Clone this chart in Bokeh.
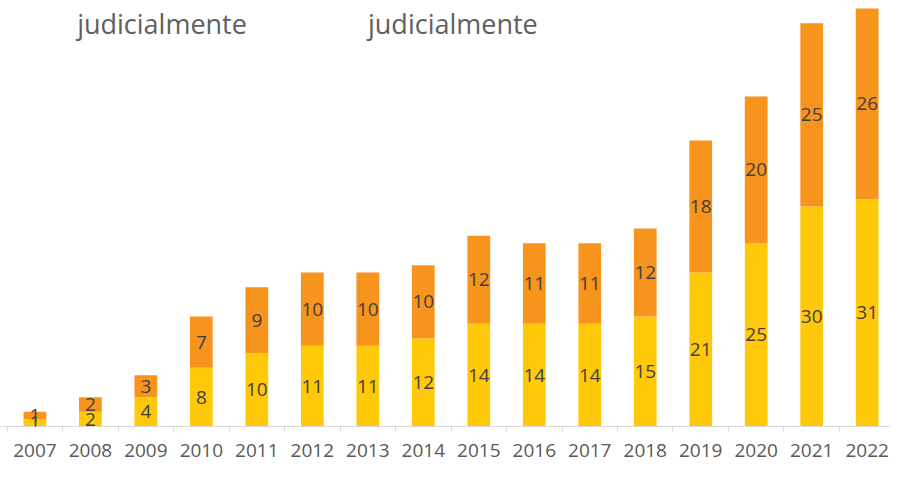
from bokeh.plotting import figure
from bokeh.models import ColumnDataSource, FixedTicker, Range1d, LabelSet, Label
from bokeh.core.properties import value
from bokeh.embed import file_html
from bokeh.resources import INLINE

years = ["2007", "2008", "2009", "2010", "2011", "2012", "2013", "2014",
         "2015", "2016", "2017", "2018", "2019", "2020", "2021", "2022"]
serie_amarilla = [1, 2, 4, 8, 10, 11, 11, 12, 14, 14, 14, 15, 21, 25, 30, 31]
serie_naranja = [1, 2, 3, 7, 9, 10, 10, 10, 12, 11, 11, 12, 18, 20, 25, 26]
legend_labels = ["judicialmente", "judicialmente"]

YELLOW = "#FFC90A"
ORANGE = "#F7941E"
FONT = "Open Sans"

xs = list(range(len(years)))
total = [a + b for a, b in zip(serie_amarilla, serie_naranja)]
src = ColumnDataSource(dict(
    x=xs,
    y1=serie_amarilla,
    tot=total,
    m1=[a / 2 for a in serie_amarilla],
    m2=[a + b / 2 for a, b in zip(serie_amarilla, serie_naranja)],
    l1=[str(a) for a in serie_amarilla],
    l2=[str(b) for b in serie_naranja],
))

p = figure(width=890, height=465, output_backend="svg", toolbar_location=None,
           x_range=Range1d(-0.620, 15.42), y_range=Range1d(0, 58.1),
           min_border_left=0, min_border_right=0, min_border_top=0,
           min_border_bottom=39)
p.outline_line_color = None
p.xgrid.visible = False
p.ygrid.visible = False
p.yaxis.visible = False
p.background_fill_color = "white"

p.vbar(x="x", bottom=0, top="y1", width=0.41, source=src,
       fill_color=YELLOW, line_color=None)
p.vbar(x="x", bottom="y1", top="tot", width=0.41, source=src,
       fill_color=ORANGE, line_color=None)

for col_y, col_t in (("m1", "l1"), ("m2", "l2")):
    p.add_layout(LabelSet(x="x", y=col_y, text=col_t, source=src,
                          text_align="center", text_baseline="middle",
                          text_font=value(FONT), text_font_size="19px",
                          text_color="#404040"))

ax = p.xaxis[0]
ax.ticker = FixedTicker(ticks=xs, minor_ticks=[k - 0.5 for k in range(len(years) + 1)])
ax.major_label_overrides = {i: y for i, y in enumerate(years)}
ax.major_tick_line_color = None
ax.major_tick_out = 0
ax.major_tick_in = 0
ax.minor_tick_out = 5
ax.minor_tick_in = 0
ax.minor_tick_line_color = "#d9d9d9"
ax.axis_line_color = "#d9d9d9"
ax.major_label_text_font = FONT
ax.major_label_text_font_size = "19px"
ax.major_label_text_color = "#595959"
ax.major_label_standoff = 12

for xpos, txt in zip([0.761, 6.003], legend_labels):
    p.add_layout(Label(x=xpos, y=55.0, text=txt, text_font=FONT,
                       text_font_size="27px", text_color="#606060",
                       text_baseline="alphabetic", text_align="left"))

open("out.html", "w").write(file_html(p, INLINE))
